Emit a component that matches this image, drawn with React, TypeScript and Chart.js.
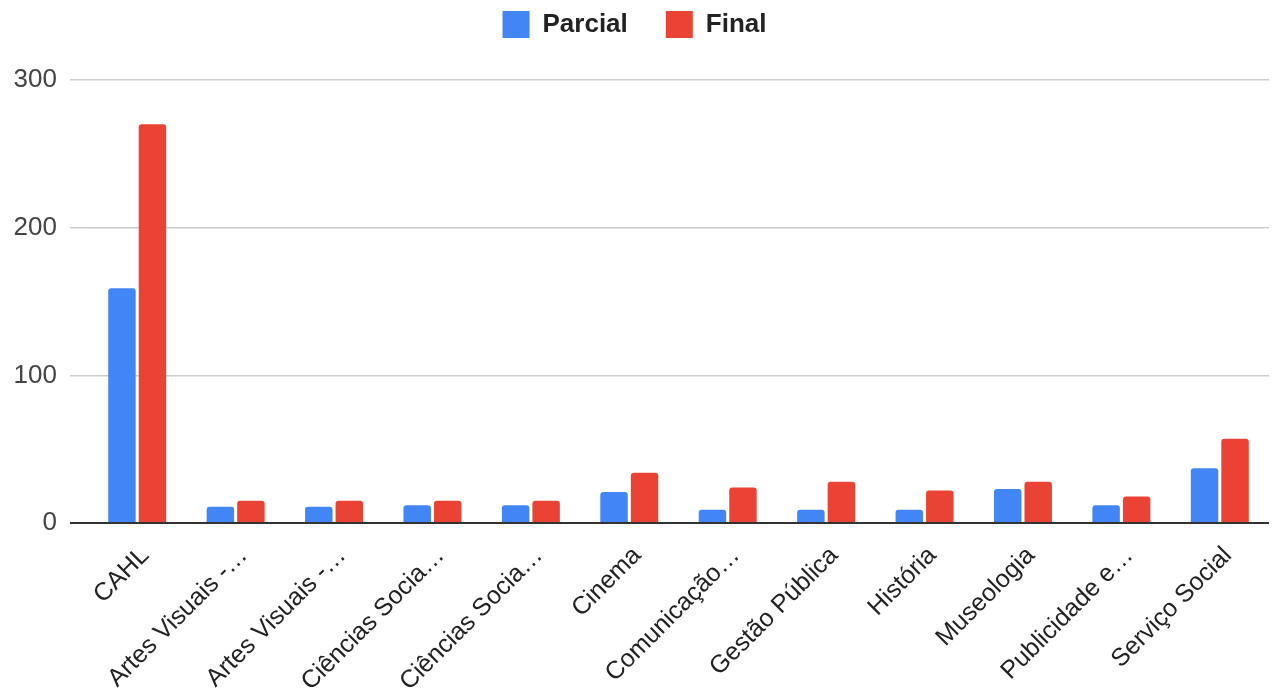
import React, { useEffect, useRef } from "react";
import { Chart, registerables } from "chart.js";

Chart.register(...registerables);

const categories = [
  "CAHL",
  "Artes Visuais -…",
  "Artes Visuais -…",
  "Ciências Socia…",
  "Ciências Socia…",
  "Cinema",
  "Comunicação…",
  "Gestão Pública",
  "História",
  "Museologia",
  "Publicidade e…",
  "Serviço Social",
];

const parcial = [159, 11, 11, 12, 12, 21, 9, 9, 9, 23, 12, 37];
const final = [270, 15, 15, 15, 15, 34, 24, 28, 22, 28, 18, 57];

const yTicks = [0, 100, 200, 300];

const FONT = "'Liberation Sans', Arial, sans-serif";

export default function App() {
  const ref = useRef<HTMLCanvasElement | null>(null);

  useEffect(() => {
    document.body.style.margin = "0";
    const canvas = ref.current;
    if (!canvas) return;

    const legendPatch = {
      id: "legendPatch",
      afterInit(chart: any) {
        const legend = chart.legend;
        if (legend && !legend.__patched) {
          const orig = legend.fit;
          legend.fit = function () {
            orig.call(this);
            this.height = 107;
          };
          legend.__patched = true;
        }
      },
    };

    const chart = new Chart(canvas, {
      type: "bar",
      data: {
        labels: categories,
        datasets: [
          {
            label: "Parcial",
            data: parcial,
            backgroundColor: "#4285F4",
            borderRadius: 3,
            barPercentage: 0.9,
            categoryPercentage: 0.62,
          },
          {
            label: "Final",
            data: final,
            backgroundColor: "#EA4335",
            borderRadius: 3,
            barPercentage: 0.9,
            categoryPercentage: 0.62,
          },
        ],
      },
      options: {
        responsive: false,
        animation: false,
        layout: { padding: { top: -27, right: 7, left: 0, bottom: 0 } },
        plugins: {
          legend: {
            position: "top",
            labels: {
              boxWidth: 27,
              boxHeight: 27,
              padding: 38,
              color: "#222",
              font: { family: FONT, size: 26, weight: "bold" },
            },
          },
          tooltip: { enabled: false },
        },
        scales: {
          x: {
            grid: { display: false },
            border: { display: false },
            ticks: {
              color: "#222",
              font: { family: FONT, size: 25 },
              minRotation: 45,
              maxRotation: 45,
              padding: 10,
              labelOffset: 8,
              autoSkip: false,
            },
            afterFit(scale: any) {
              scale.height = 173;
            },
          },
          y: {
            min: 0,
            max: 300,
            afterBuildTicks(scale: any) {
              scale.ticks = yTicks.map((v) => ({ value: v }));
            },
            border: { display: false },
            grid: {
              color: (ctx: any) => (ctx.tick && ctx.tick.value === 0 ? "#333" : "#cccccc"),
              lineWidth: (ctx: any) => (ctx.tick && ctx.tick.value === 0 ? 2 : 1.5),
              tickLength: 18,
              drawTicks: true,
            },
            ticks: {
              color: "#444",
              font: { family: FONT, size: 26 },
              padding: 13,
            },
            afterFit(scale: any) {
              scale.width = 88;
            },
          },
        },
      },
      plugins: [legendPatch],
    } as any);

    return () => chart.destroy();
  }, []);

  return (
    <div style={{ width: 1276, height: 696 }}>
      <canvas ref={ref} width={1276} height={696} />
    </div>
  );
}
